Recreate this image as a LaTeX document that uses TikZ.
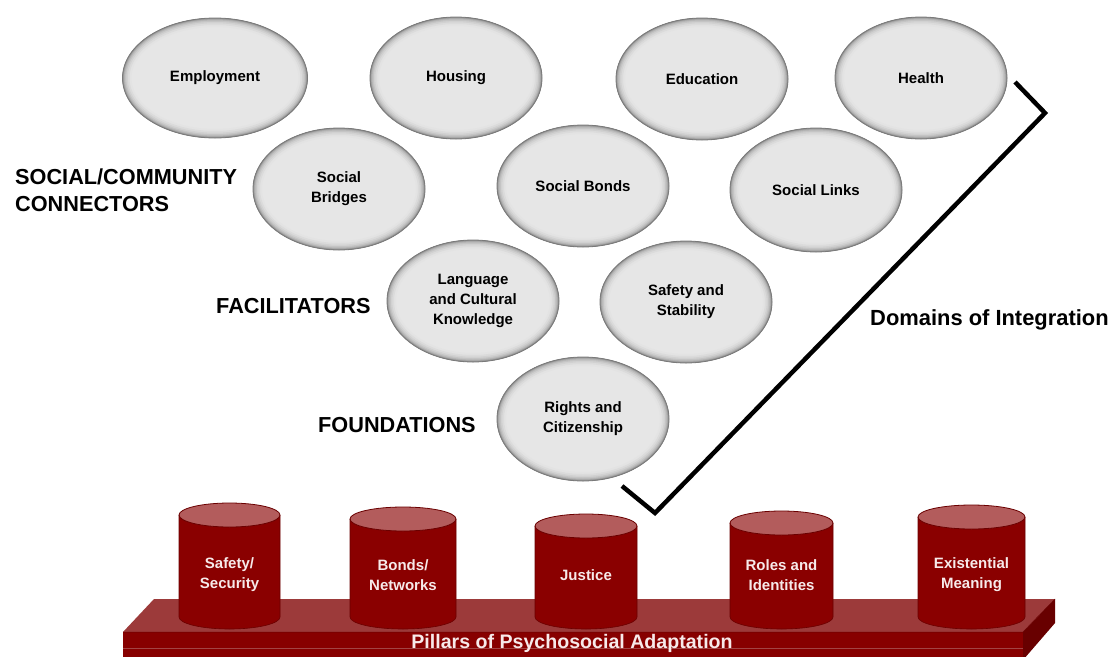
\documentclass[tikz,border=0pt]{standalone}
\usepackage{fontspec}
\setmainfont{Liberation Sans}
\usetikzlibrary{shapes.geometric,calc}
\definecolor{ellfill}{HTML}{E6E6E6}
\definecolor{elledge}{HTML}{7A7A7A}
\definecolor{cylbody}{HTML}{8A0000}
\definecolor{cyltop}{HTML}{B35C5C}
\definecolor{cyledge}{HTML}{6A0000}
\definecolor{slabtop}{HTML}{9C3A3A}
\definecolor{slabfront}{HTML}{870000}
\definecolor{slabside}{HTML}{680000}
\definecolor{slabline}{HTML}{A24444}
\definecolor{pilltext}{HTML}{F7EAEA}
\tikzset{
  domainoval/.style={ellipse, minimum width=172pt, minimum height=122pt, inner sep=0pt,
    fill=ellfill, draw=elledge, line width=0.8pt, align=center,
    font=\fontsize{15}{20}\selectfont\bfseries,
    path picture={
      \coordinate (ppc) at (path picture bounding box.center);
      \coordinate (ppn) at (path picture bounding box.north east);
      \foreach \w/\p in {18/11,14/14,10.5/18,7.5/23,5/29,3/36,1.6/44}{
        \draw[line width=\w pt,black!\p] let \p1=(ppn),\p2=(ppc) in
          (\p2) ellipse [x radius=\x1-\x2, y radius=\y1-\y2];
      }
    }},
  levellabel/.style={font=\fontsize{21.7}{27}\selectfont\bfseries, align=left, inner sep=0pt},
  pillarlabel/.style={font=\fontsize{15}{20}\selectfont\bfseries, text=pilltext, align=center, inner sep=0pt},
  bracketline/.style={line width=4.5pt, line join=miter, black},
}
\newcommand\pillarcyl[5]{%
  \fill[cylbody] (#2-#4,#3) -- (#2-#4,617) arc[start angle=180,end angle=0,x radius=#4,y radius=12] -- (#2+#4,#3) -- cycle;
  \draw[cyledge, line width=0.6pt] (#2-#4,#3) -- (#2-#4,617) arc[start angle=180,end angle=0,x radius=#4,y radius=12] -- (#2+#4,#3);
  \filldraw[fill=cyltop, draw=cyledge, line width=0.8pt] (#2,#3) ellipse [x radius=#4, y radius=12];
  \node[pillarlabel] (#1) at (#2,575) {#5};
}
\begin{document}
\begin{tikzpicture}[x=1pt,y=-1pt]
\useasboundingbox (0,0) rectangle (1111,656);
\fill[white] (0,0) rectangle (1111,656);

% domain ellipses
\node[domainoval, minimum width=185pt, minimum height=120pt] (emp) at (215,78) {Employment};
\node[domainoval] (hou) at (456,78) {Housing};
\node[domainoval] (edu) at (702,79) {Education};
\node[domainoval] (hea) at (921,78) {Health};
\node[domainoval] (bri) at (339,189) {Social\\Bridges};
\node[domainoval] (bon) at (583,186) {Social Bonds};
\node[domainoval, minimum height=124pt] (lin) at (816,190) {Social Links};
\node[domainoval] (lan) at (473,301) {Language\\and Cultural\\Knowledge};
\node[domainoval] (saf) at (686,302) {Safety and\\Stability};
\node[domainoval, minimum height=124pt] (rig) at (583,419) {Rights and\\Citizenship};

% level labels
\node[levellabel, anchor=base west] (lsoc) at (15,211) {SOCIAL/COMMUNITY\\CONNECTORS};
\node[levellabel, anchor=base west] (lfac) at (216,313) {FACILITATORS};
\node[levellabel, anchor=base west] (lfou) at (318,432) {FOUNDATIONS};

% bracket
\coordinate (b1) at (1015,82);
\coordinate (b2) at (1045,113);
\coordinate (b3) at (655,513);
\coordinate (b4) at (622,486);
\draw[bracketline] (b1) -- (b2) -- (b3) -- (b4);
\node[font=\fontsize{21.9}{26}\selectfont\bfseries, anchor=base west, inner sep=0pt] (dom) at (870,325) {Domains of Integration};

% platform
\fill[slabtop] (154,599) -- (1055,599) -- (1023,632) -- (123,632) -- cycle;
\fill[slabfront] (123,632) rectangle (1023,660);
\fill[slabside] (1023,632) -- (1055,599) -- (1055,623) -- (1023,660) -- cycle;
\draw[slabline, line width=0.8pt] (123,648) -- (1023,648);
\draw[cyledge, line width=0.5pt] (123,632) -- (1023,632) -- (1055,599);
\node[font=\fontsize{19.6}{24}\selectfont\bfseries, text=pilltext, anchor=base, inner sep=0pt] (pil) at (572,648) {Pillars of Psychosocial Adaptation};

% pillars
\pillarcyl{psaf}{229.5}{515}{50.5}{Safety/\\Security}
\pillarcyl{pbon}{403}{519}{53}{Bonds/\\Networks}
\pillarcyl{pjus}{586}{526}{51}{Justice}
\pillarcyl{prol}{781.5}{523}{51.5}{Roles and\\Identities}
\pillarcyl{pexi}{971.5}{517}{53.5}{Existential\\Meaning}
\end{tikzpicture}
\end{document}
